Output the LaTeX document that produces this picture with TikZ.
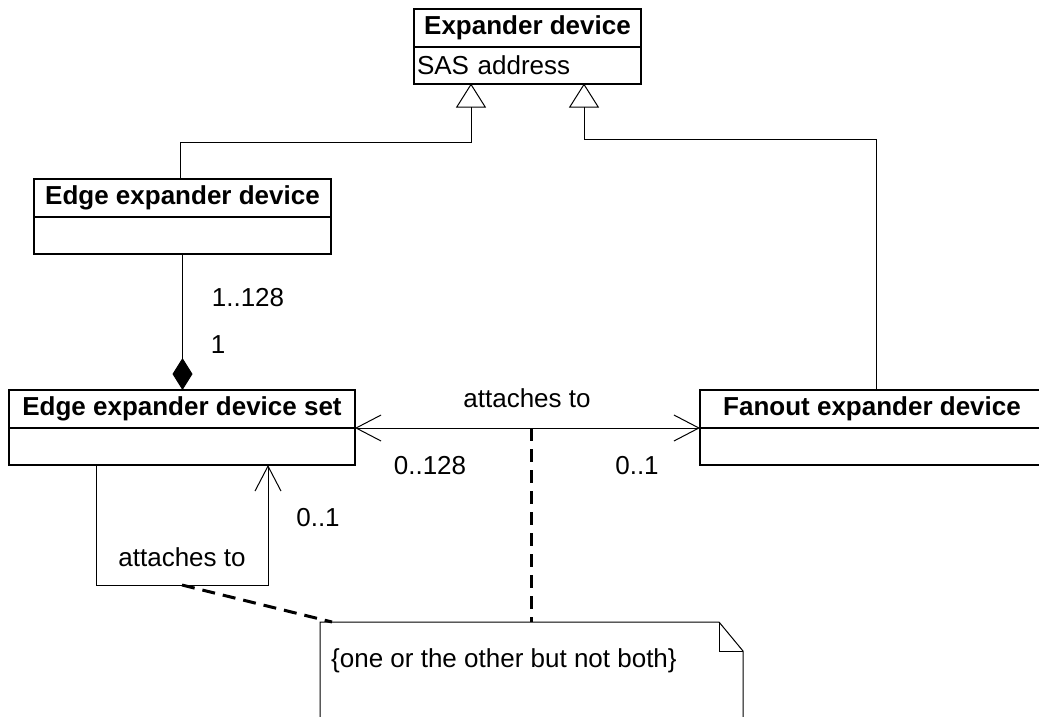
\documentclass[tikz,border=0pt]{standalone}
\usepackage{fontspec}
\setmainfont{Liberation Sans}
\usetikzlibrary{arrows.meta,positioning}

\begin{document}
\begin{tikzpicture}[x=1pt,y=-1pt,
  umlfont/.style={font=\fontsize{26}{30}\selectfont},
  classtitle/.style={draw,line width=2pt,outer sep=0pt,inner sep=0pt,
    font=\fontsize{26}{30}\selectfont\bfseries,minimum height=38pt},
  classbody/.style={draw,line width=2pt,outer sep=0pt,inner sep=0pt,
    umlfont,minimum height=37pt},
  gen/.style={line width=1pt,-{Triangle[open,length=24pt,width=30pt]}},
  comp/.style={line width=1pt,-{Diamond[fill=black,length=32pt,width=20pt]}},
  assoc/.style={line width=1pt},
  openv/.tip={Straight Barb[length=25pt,width=26pt]},
  xordash/.style={line width=3pt,dash pattern=on 13pt off 8pt},
  lbl/.style={umlfont,inner sep=0pt}
]
  \useasboundingbox (0,0) rectangle (1039,716);
  \clip (0,0) rectangle (1039,716);

  % classes
  \node[classtitle,minimum width=227pt] (exp) at (527.5,27.5) {Expander device};
  \node[classbody,below=0pt of exp,text width=221pt,inner xsep=3pt,align=left] (expbody) {SAS address};

  \node[classtitle,minimum width=297pt] (edge) at (182.5,197.5) {Edge expander device};
  \node[classbody,below=0pt of edge,minimum width=297pt] (edgebody) {};

  \node[classtitle,minimum width=346pt] (set) at (182,409) {Edge expander device set};
  \node[classbody,below=0pt of set,minimum width=346pt] (setbody) {};

  \node[classtitle,minimum width=344pt] (fanout) at (872,409) {Fanout expander device};
  \node[classbody,below=0pt of fanout,minimum width=344pt] (fanbody) {};

  % generalisations
  \coordinate (g1) at (471,142);
  \coordinate (g2) at (584,139);
  \draw[gen] ([xshift=-2.5pt]edge.north) |- (g1) -- (g1 |- expbody.south);
  \draw[gen] ([xshift=4pt]fanout.north) |- (g2) -- (g2 |- expbody.south);

  % composition
  \draw[comp] (edgebody.south) -- (edgebody.south |- set.north);
  \node[lbl] (m1) at (248,298) {1..128};
  \node[lbl] (m2) at (218,345) {1};

  % associations
  \draw[assoc,openv-openv] (setbody.north east) -- (fanbody.north west);
  \node[lbl] (a1) at (527,398) {attaches to};
  \node[lbl] (m3) at (430,466) {0..128};
  \node[lbl] (m4) at (637,466) {0..1};

  \coordinate (loop) at ([yshift=-120pt]setbody.south);
  \draw[assoc,-openv] ([xshift=-86pt]setbody.south) |- ([xshift=86pt]loop) -- ([xshift=86pt]setbody.south);
  \node[lbl] (a2) at (182,557) {attaches to};
  \node[lbl] (m5) at (318,518) {0..1};

  % note
  \draw[line width=1pt] (320,740) -- (320,622) -- (719,622) -- (743,651) -- (743,740);
  \draw[line width=1pt] (719,622) -- (719,651) -- (743,651);
  \node[lbl,anchor=west] (note) at (331,661) {\{one or the other but not both\}};

  % constraint links
  \coordinate (xor) at (531,428);
  \coordinate (n1) at (332,622);
  \draw[xordash] (loop) -- (n1);
  \draw[xordash] (xor) -- (xor |- n1);
\end{tikzpicture}
\end{document}
